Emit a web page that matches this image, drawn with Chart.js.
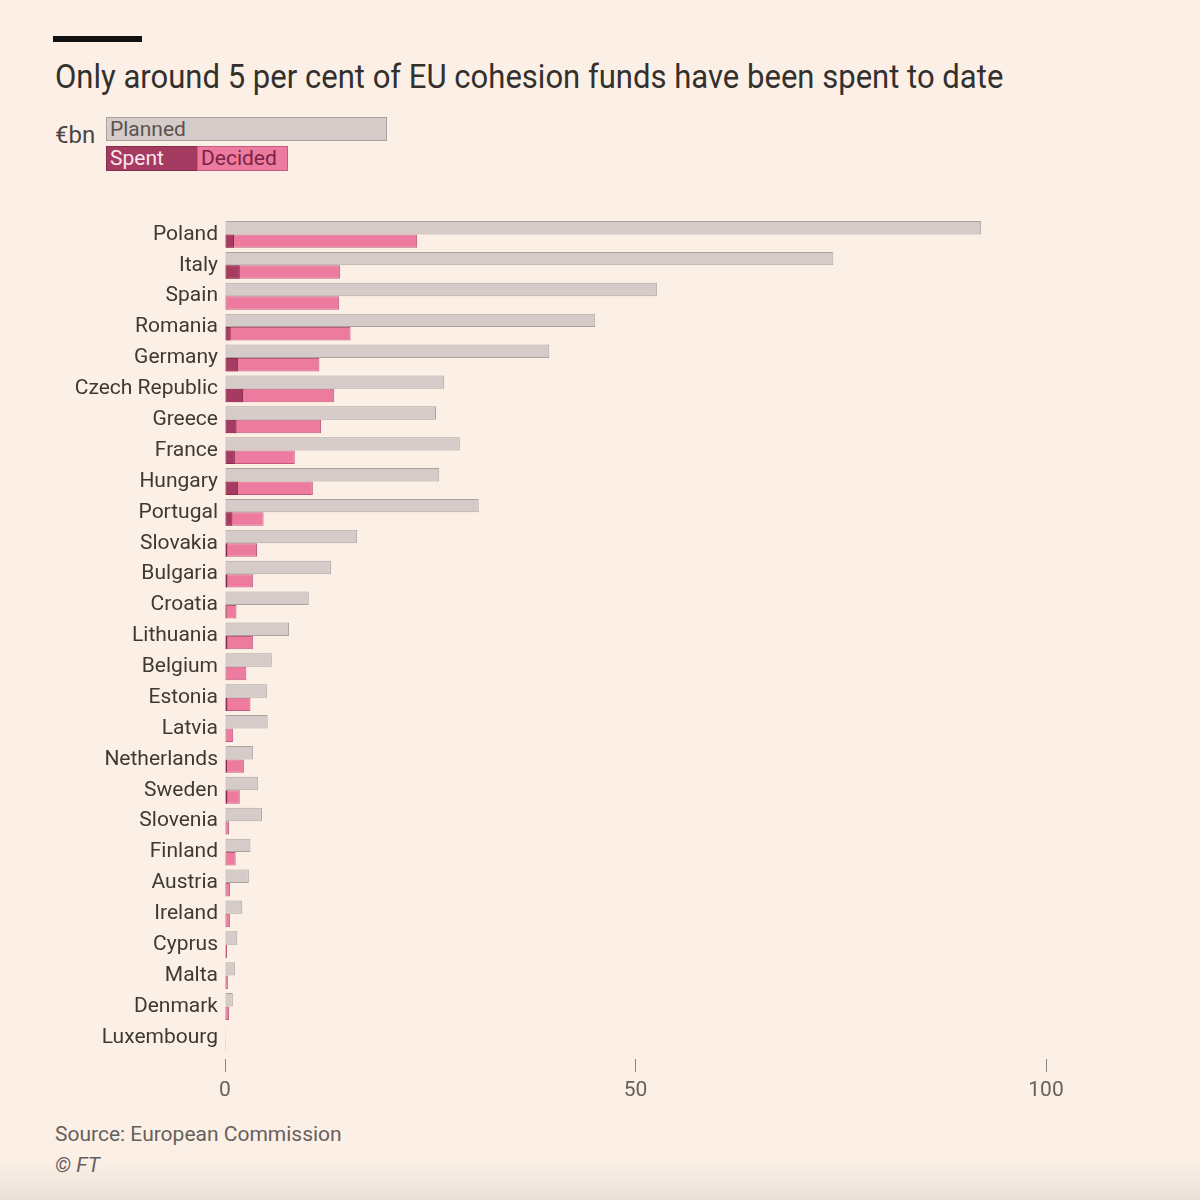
<!DOCTYPE html>
<html>
<head>
<meta charset="utf-8">
<script src="https://cdn.jsdelivr.net/npm/chart.js@4/dist/chart.umd.min.js"></script>
<style>
  html, body { margin: 0; padding: 0; }
  body {
    width: 1200px; height: 1200px; position: relative; overflow: hidden;
    background: linear-gradient(to bottom, #fcf0e6 0px, #fcf0e6 1160px, #e8e0d7 1200px);
    font-family: Roboto, "Noto Sans", sans-serif; color: #33302e;
  }
  #topBar { position: absolute; left: 53px; top: 36px; width: 89px; height: 6px; background: #111; }
  #title { position: absolute; left: 55px; top: 56px; font-size: 34px; color: #33302e; white-space: nowrap;
           transform: scaleX(0.913); transform-origin: left top; }
  #unit { position: absolute; left: 55px; top: 121px; font-size: 24px; color: #4a4542; }
  .lg { position: absolute; box-sizing: border-box; font-size: 21px; line-height: 22px; padding-left: 3px; white-space: nowrap; }
  #lgPlanned { left: 106px; top: 117px; width: 281px; height: 24px; background: #d5ccc9; border: 1px solid #aaa29f; color: #5a5350; }
  #lgSpent { left: 106px; top: 146px; width: 92px; height: 25px; background: #a53b60; border: 1px solid #8a2c4c; color: #fbe6ee; }
  #lgDecided { left: 197px; top: 146px; width: 91px; height: 25px; background: #ec7b9f; border: 1px solid #c75c80; color: #7b2446; }
  #chartBox { position: absolute; left: 0; top: 0; width: 1200px; height: 1117px; }
  #source { position: absolute; left: 55px; top: 1122px; font-size: 21px; color: #66605c; }
  #copy { position: absolute; left: 55px; top: 1153px; font-size: 21px; color: #66605c; font-style: italic; }
</style>
</head>
<body>
<div id="topBar"></div>
<div id="title">Only around 5 per cent of EU cohesion funds have been spent to date</div>
<div id="unit">€bn</div>
<div class="lg" id="lgPlanned">Planned</div>
<div class="lg" id="lgSpent">Spent</div>
<div class="lg" id="lgDecided">Decided</div>
<div id="chartBox"><canvas id="chart"></canvas></div>
<div id="source">Source: European Commission</div>
<div id="copy">© FT</div>
<script>
// €bn
const countries = ["Poland", "Italy", "Spain", "Romania", "Germany", "Czech Republic", "Greece", "France",
    "Hungary", "Portugal", "Slovakia", "Bulgaria", "Croatia", "Lithuania", "Belgium", "Estonia", "Latvia",
    "Netherlands", "Sweden", "Slovenia", "Finland", "Austria", "Ireland", "Cyprus", "Malta", "Denmark", "Luxembourg"];
const planned = [92.1, 74.1, 52.6, 45.1, 39.5, 26.7, 25.7, 28.6, 26.1, 30.9, 16.1, 12.9, 10.2, 7.8, 5.7, 5.1, 5.2,
    3.4, 4.0, 4.5, 3.1, 2.9, 2.1, 1.5, 1.2, 0.95, 0.1];
const decided = [23.4, 14.0, 13.9, 15.3, 11.5, 13.3, 11.7, 8.5, 10.7, 4.7, 3.9, 3.4, 1.4, 3.4, 2.6, 3.1, 1.0,
    2.3, 1.8, 0.5, 1.3, 0.6, 0.6, 0.25, 0.35, 0.5, 0.05];
const spent = [1.1, 1.8, 0.1, 0.7, 1.6, 2.2, 1.4, 1.2, 1.6, 0.9, 0.3, 0.3, 0.2, 0.3, 0.1, 0.3, 0.1,
    0.25, 0.3, 0.1, 0.1, 0.1, 0.1, 0.1, 0.1, 0.1, 0.02];
const xTicks = [0, 50, 100];

const ctx = document.querySelector("#chart").getContext("2d");
new Chart(ctx, {
    type: "bar",
    data: {
        labels: countries,
        datasets: [
            { label: "Planned", data: planned, stack: "a", order: 0,
              backgroundColor: "#d5ccc9", borderColor: "#aaa29f" },
            { label: "Spent", data: spent, stack: "b", order: 1,
              backgroundColor: "#a53b60", borderColor: "#8a2c4c" },
            { label: "Decided", data: decided, stack: "b", order: 2,
              backgroundColor: "#ec7b9f", borderColor: "#c25a7e" }
        ]
    },
    options: {
        indexAxis: "y",
        responsive: true,
        maintainAspectRatio: false,
        animation: false,
        datasets: {
            bar: { categoryPercentage: 0.87, barPercentage: 1, borderWidth: 1, borderSkipped: false }
        },
        layout: { padding: { top: 219, right: 154, bottom: 8, left: 0 } },
        plugins: { legend: { display: false }, tooltip: { enabled: false }, title: { display: false } },
        scales: {
            y: {
                offset: true,
                grid: { display: false, drawTicks: false },
                border: { display: false },
                ticks: { padding: 7, color: "#3d3935", font: { family: "Roboto", size: 21 } },
                afterFit: function (axis) { axis.width = 225; }
            },
            x: {
                stacked: false,
                min: 0, max: 100,
                afterBuildTicks: function (axis) { axis.ticks = xTicks.map(v => ({ value: v })); },
                grid: { drawOnChartArea: false, drawTicks: true, tickLength: 19,
                        tickColor: "#8a8480", tickWidth: 1, tickBorderDash: [0, 6, 13, 100] },
                border: { display: false },
                ticks: { padding: 6, color: "#66605c", font: { family: "Roboto", size: 21 } }
            }
        }
    }
});
</script>
</body>
</html>
